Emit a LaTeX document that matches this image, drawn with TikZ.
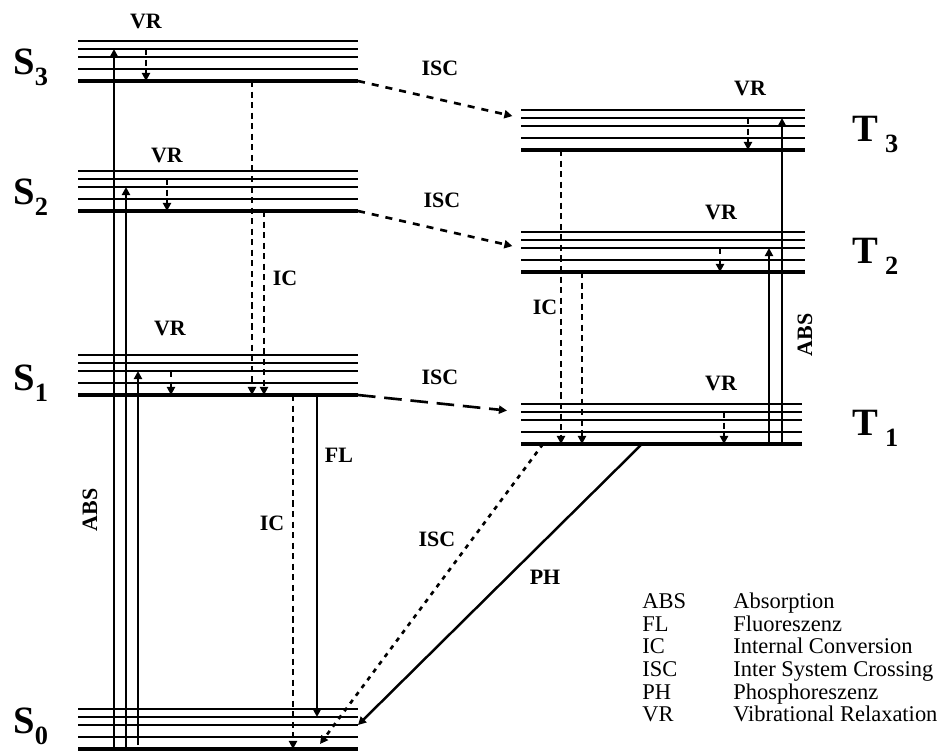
\documentclass[tikz,border=0pt]{standalone}
\usepackage{fontspec}
\setmainfont{Liberation Serif}
\usetikzlibrary{arrows.meta}

\newcommand\statelbl[2]{#1\raisebox{-6.5pt}{\fontsize{15}{15}\selectfont #2}}

\begin{document}
\begin{tikzpicture}[
    x=0.02cm, y=-0.02cm,
    >={Triangle[length=4.6pt,width=4.6pt]},
    thin level/.style={line width=1.15pt},
    thick level/.style={line width=2.3pt},
    trans/.style={->, line width=1.4pt},
    nonrad/.style={->, line width=1.5pt, dash pattern=on 3.5pt off 2.5pt},
    isc/.style={->, line width=1.5pt, dash pattern=on 4pt off 4pt, shorten >=5pt},
    proc/.style={font=\bfseries\fontsize{12.5}{14}\selectfont, inner sep=1pt},
    state/.style={font=\bfseries\fontsize{22}{22}\selectfont, anchor=base west, inner sep=0pt},
    legend/.style={font=\fontsize{12.8}{14}\selectfont, anchor=base west, inner sep=0pt}
]
\useasboundingbox (0,0) rectangle (947,751);

% energy levels
\foreach \n/\xa/\xb/\y in {S0/78/358/749, S1/78/358/395, S2/78/358/211, S3/78/358/81,
                           T1/521/802/444, T2/521/805/272, T3/521/805/150} {
  \coordinate (\n-0) at (\xa,\y);
  \coordinate (\n-1) at (\xa,\y-12);
  \coordinate (\n-2) at (\xa,\y-24);
  \coordinate (\n-3) at (\xa,\y-32);
  \coordinate (\n-4) at (\xa,\y-40);
  \coordinate (\n-e) at (\xb,\y);
  \foreach \k in {1,...,4}
    \draw[thin level] (\n-\k) -- (\n-e |- \n-\k);
  \draw[thick level] (\n-0) -- (\n-e);
}

\node[state] (s0) at (13,733) {\statelbl{S}{0}};
\node[state] (s1) at (13,390) {\statelbl{S}{1}};
\node[state] (s2) at (13,204) {\statelbl{S}{2}};
\node[state] (s3) at (13,74) {\statelbl{S}{3}};
\node[state] (t1) at (852,435) {\statelbl{T\hspace{4pt}}{1}};
\node[state] (t2) at (852,263) {\statelbl{T\hspace{4pt}}{2}};
\node[state] (t3) at (852,141) {\statelbl{T\hspace{4pt}}{3}};

% absorption
\draw[trans] (114,0 |- S0-0) -- (114,0 |- S3-3);
\draw[trans] (126,0 |- S0-0) -- (126,0 |- S2-2);
\draw[trans] (138,745) -- (138,0 |- S1-2);
\draw[trans] (782,0 |- T1-0) -- (782,0 |- T3-3);
\draw[trans] (769,0 |- T1-0) -- (769,0 |- T2-2);

% vibrational relaxation
\draw[nonrad] (146,0 |- S3-3) -- (146,0 |- S3-0);
\draw[nonrad] (167,0 |- S2-3) -- (167,0 |- S2-0);
\draw[nonrad] (171,0 |- S1-2) -- (171,0 |- S1-0);
\draw[nonrad] (748,0 |- T3-3) -- (748,0 |- T3-0);
\draw[nonrad] (720,0 |- T2-2) -- (720,0 |- T2-0);
\draw[nonrad] (724,0 |- T1-3) -- (724,0 |- T1-0);

% internal conversion
\draw[nonrad] (252,0 |- S3-0) -- (252,0 |- S1-0);
\draw[nonrad] (264,0 |- S2-0) -- (264,0 |- S1-0);
\draw[nonrad] (293,0 |- S1-0) -- (293,0 |- S0-0);
\draw[nonrad] (561,0 |- T3-0) -- (561,0 |- T1-0);
\draw[nonrad] (582,0 |- T2-0) -- (582,0 |- T1-0);

% fluorescence, phosphorescence
\draw[trans] (317,0 |- S1-0) -- (317,0 |- S0-3);
\draw[trans] (642,0 |- T1-0) -- (S0-e |- S0-2);

% inter system crossing
\draw[isc] (S3-e) -- (T3-3);
\draw[isc] (S2-e) -- (T2-2);
\draw[isc, dash pattern=on 10pt off 5pt, shorten >=8pt] (S1-e) -- (T1-3);
\coordinate (isc-end) at (320,744);
\draw[->, line width=1.5pt, dash pattern=on 2.5pt off 3pt] (543,0 |- T1-0) -- (isc-end);

\node[proc] (vr-s3) at (146,21) {VR};
\node[proc] (vr-s2) at (167,155) {VR};
\node[proc] (vr-s1) at (170,328) {VR};
\node[proc] (vr-t3) at (750,88) {VR};
\node[proc] (vr-t2) at (721,212) {VR};
\node[proc] (vr-t1) at (721,383) {VR};
\node[proc] (isc-1) at (440,68) {ISC};
\node[proc] (isc-2) at (442,200) {ISC};
\node[proc] (isc-3) at (440,377) {ISC};
\node[proc] (isc-4) at (437,539) {ISC};
\node[proc] (ic-s) at (285,278) {IC};
\node[proc] (ic-s0) at (272,523) {IC};
\node[proc] (ic-t) at (545,307) {IC};
\node[proc] (fl) at (339,455) {FL};
\node[proc] (ph) at (545,577) {PH};
\node[proc, rotate=90] (abs-s) at (90,510) {ABS};
\node[proc, rotate=90] (abs-t) at (805,335) {ABS};

% legend
\foreach \a/\b [count=\i] in {ABS/Absorption, FL/Fluoreszenz, IC/Internal Conversion,
    ISC/Inter System Crossing, PH/Phosphoreszenz, VR/Vibrational Relaxation} {
  \node[legend] (abbr-\i) at (642,586+22.6*\i) {\a};
  \node[legend] (desc-\i) at (733,586+22.6*\i) {\b};
}
\end{tikzpicture}
\end{document}
